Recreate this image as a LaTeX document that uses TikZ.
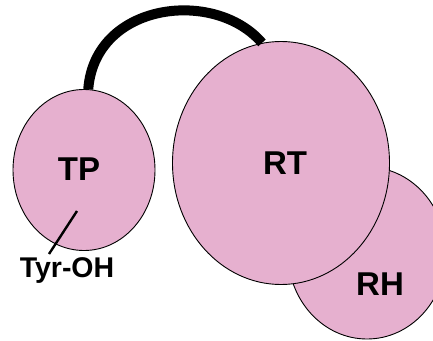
\documentclass[tikz,border=0pt]{standalone}
\usepackage{fontspec}
\setmainfont{Liberation Sans}
\usetikzlibrary{shapes.geometric}
\definecolor{domainpink}{RGB}{230,176,207}
\tikzset{
  domainblob/.style={ellipse, draw=black, line width=0.9pt, fill=domainpink, inner sep=0pt},
  biglabel/.style={font=\bfseries\fontsize{33}{33}\selectfont, inner sep=0pt},
  smalllabel/.style={font=\bfseries\fontsize{28.5}{28.5}\selectfont, inner sep=0pt},
  linker/.style={line width=10pt, line cap=butt},
  pointer/.style={line width=2.4pt}
}
\begin{document}
\begin{tikzpicture}[x=1pt, y=-1pt]
\useasboundingbox (0,0) rectangle (433,340);
% domains, back to front
\node[domainblob, minimum width=158pt, minimum height=172pt] (rh) at (367,253) {};
\node[domainblob, minimum width=217pt, minimum height=243pt] (rt) at (281,163) {};
\node[domainblob, minimum width=142pt, minimum height=161pt] (tp) at (84,170) {};
% flexible linker between TP and RT
\draw[linker] (tp.87) .. controls (95,2) and (215,-12) .. (rt.99);
% domain names
\node[biglabel] (tplabel) at (79,169) {TP};
\node[biglabel] (rtlabel) at (285,163) {RT};
\node[biglabel] (rhlabel) at (380,284) {RH};
% active-site tyrosine
\node[smalllabel] (tyr) at (67,271) {Tyr-OH};
\coordinate (tyrtip) at (77,211);
\coordinate (tyrfoot) at (49,254);
\draw[pointer] (tyrtip) -- (tyrfoot);
\end{tikzpicture}
\end{document}
